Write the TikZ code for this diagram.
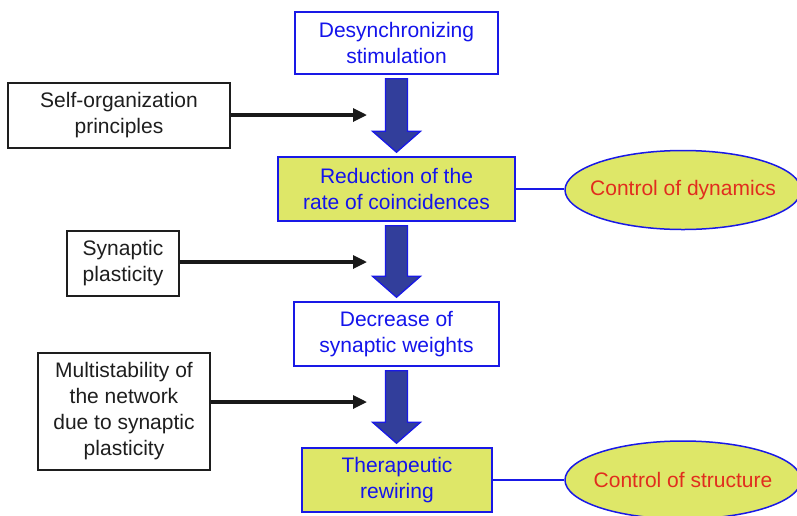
\documentclass[tikz,border=0pt]{standalone}
\usepackage{fontspec}
\setmainfont{Liberation Sans}
\usetikzlibrary{shapes.geometric,arrows.meta,calc}
\definecolor{txtblue}{RGB}{20,20,235}
\definecolor{txtred}{RGB}{225,45,30}
\definecolor{boxyel}{RGB}{222,231,104}
\definecolor{arrfill}{RGB}{50,62,155}
\definecolor{edgeblue}{RGB}{25,25,230}
\definecolor{txtgray}{RGB}{30,30,30}
\tikzset{
  every node/.style={font=\fontsize{21}{26}\selectfont, align=center, inner sep=0pt},
  bluebox/.style={draw=edgeblue, line width=1.5pt, fill=white, text=txtblue},
  yelbox/.style={draw=edgeblue, line width=1.5pt, fill=boxyel, text=txtblue},
  blackbox/.style={draw=txtgray, line width=1.3pt, fill=white, text=txtgray},
  ctrl/.style={ellipse, draw=edgeblue, line width=1.5pt, fill=boxyel, text=txtred, inner xsep=-20pt},
  link/.style={draw=edgeblue, line width=1.3pt},
  feed/.style={draw=black!90, line width=3.2pt, -{Triangle[length=14pt,width=13pt]}},
  bigarrow/.style={draw=edgeblue, line width=1.3pt, fill=arrfill},
}
\newcommand{\bigdown}[2]{%
  \path[bigarrow] let \p1=($(#1.south)+(0,4)$), \p2=($(#2.north)+(0,-4)$) in
    (\x1-11pt,\y1) -- (\x1+11pt,\y1) -- (\x1+11pt,\y2+21pt) -- (\x1+24pt,\y2+21pt)
    -- (\x1,\y2) -- (\x1-24pt,\y2+21pt) -- (\x1-11pt,\y2+21pt) -- cycle;}
\begin{document}
\begin{tikzpicture}[x=1pt,y=-1pt]
\useasboundingbox (0,0) rectangle (797,515);
\clip (0,0) rectangle (797,515);
\node[bluebox, minimum width=203pt, minimum height=62pt] (desync) at (396.5,43) {Desynchronizing\\stimulation};
\node[blackbox, minimum width=222pt, minimum height=65pt] (so) at (119,115.5) {Self-organization\\principles};
\node[yelbox, minimum width=237pt, minimum height=64pt] (red) at (396.5,189) {Reduction of the\\rate of coincidences};
\node[blackbox, minimum width=112pt, minimum height=65pt] (syn) at (123,263.5) {Synaptic\\plasticity};
\node[bluebox, minimum width=205pt, minimum height=64pt] (dec) at (396.5,334) {Decrease of\\synaptic weights};
\node[blackbox, minimum width=172pt, minimum height=117pt] (multi) at (124,411.5) {Multistability of\\the network\\due to synaptic\\plasticity};
\node[yelbox, minimum width=190pt, minimum height=64pt] (ther) at (397,480) {Therapeutic\\rewiring};
\node[ctrl, minimum width=236pt, minimum height=79pt] (dyn) at (683,190) {Control of dynamics};
\node[ctrl, minimum width=236pt, minimum height=78pt] (str) at (683,480) {Control of structure};

\coordinate (t1) at (367,115);
\coordinate (t2) at (367,262);
\coordinate (t3) at (367,402);
\draw[feed] (so.east |- t1) -- (t1);
\draw[feed] (syn.east |- t2) -- (t2);
\draw[feed] (multi.east |- t3) -- (t3);

\draw[link] (red.east) -- (red.east -| dyn.west);
\draw[link] (ther.east) -- (ther.east -| str.west);

\bigdown{desync}{red}
\bigdown{red}{dec}
\bigdown{dec}{ther}
\end{tikzpicture}
\end{document}
